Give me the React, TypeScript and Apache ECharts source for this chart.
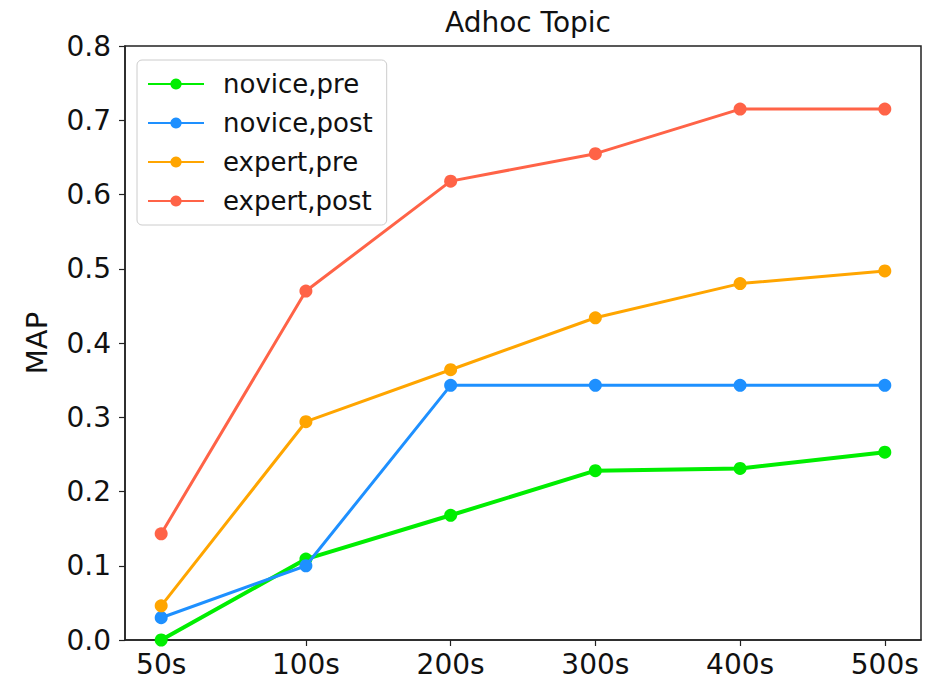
import React, { useEffect, useRef } from "react";
import * as echarts from "echarts";

const categories = ["50s", "100s", "200s", "300s", "400s", "500s"];
const novicePre = [0.0, 0.109, 0.168, 0.228, 0.231, 0.253];
const novicePost = [0.03, 0.1, 0.343, 0.343, 0.343, 0.343];
const expertPre = [0.046, 0.294, 0.364, 0.434, 0.48, 0.497];
const expertPost = [0.143, 0.47, 0.618, 0.655, 0.715, 0.715];
const seriesNames = ["novice,pre", "novice,post", "expert,pre", "expert,post"];
const seriesColors = ["#00ee00", "#1e90ff", "#ffa500", "#ff6347"];
const yTicks = [0, 0.1, 0.2, 0.3, 0.4, 0.5, 0.6, 0.7, 0.8];

export default function App() {
  const ref = useRef<HTMLDivElement>(null);
  useEffect(() => {
    if (!ref.current) return;
    const chart = echarts.init(ref.current, null, { renderer: "svg" });
    const font = "DejaVu Sans";
    const allData = [novicePre, novicePost, expertPre, expertPost];
    const idx = categories.map((_, i) => i);
    chart.setOption({
      animation: false,
      backgroundColor: "#ffffff",
      title: {
        text: "Adhoc Topic",
        left: 523,
        textAlign: "center",
        top: 3,
        textStyle: { fontFamily: font, fontSize: 28, fontWeight: "normal", color: "#111" },
      },
      legend: {
        orient: "vertical",
        left: 137,
        top: 60,
        padding: [9, 14, 9, 10],
        backgroundColor: "#ffffff",
        borderColor: "#cccccc",
        borderWidth: 1,
        borderRadius: 5,
        itemWidth: 56,
        itemHeight: 14,
        itemGap: 9,
        data: seriesNames,
        textStyle: {
          fontFamily: font,
          fontSize: 26,
          color: "#111",
          lineHeight: 30,
          padding: [0, 0, 0, 14],
        },
      },
      grid: {
        left: 125,
        right: 14,
        top: 46,
        bottom: 52,
        show: true,
        borderColor: "#222",
        borderWidth: 1.5,
        backgroundColor: "transparent",
      },
      xAxis: {
        type: "value",
        min: -0.25,
        max: 5.25,
        splitLine: { show: false },
        axisLine: { show: true, onZero: false, lineStyle: { color: "#222", width: 1.5 } },
        axisTick: { show: true, customValues: idx, length: 6, lineStyle: { color: "#222", width: 1.2 } },
        axisLabel: {
          customValues: idx,
          formatter: (v: number) => categories[Math.round(v)] ?? "",
          fontFamily: font,
          fontSize: 28,
          color: "#111",
          margin: 10,
        },
      },
      yAxis: {
        type: "value",
        min: 0,
        max: 0.8,
        interval: 0.1,
        name: "MAP",
        nameLocation: "middle",
        nameGap: 74,
        nameRotate: 90,
        nameTextStyle: { fontFamily: font, fontSize: 29, color: "#111" },
        splitLine: { show: false },
        axisLine: { show: true, onZero: false, lineStyle: { color: "#222", width: 1.5 } },
        axisTick: { show: true, customValues: yTicks, length: 6, lineStyle: { color: "#222", width: 1.2 } },
        axisLabel: {
          formatter: (v: number) => v.toFixed(1),
          fontFamily: font,
          fontSize: 28,
          color: "#111",
          margin: 14,
        },
      },
      series: allData.map((d, s) => ({
        name: seriesNames[s],
        type: "line",
        data: d.map((v, i) => [i, v]),
        symbol: "circle",
        symbolSize: 13,
        color: seriesColors[s],
        lineStyle: { width: s === 0 ? 4 : 3, color: seriesColors[s] },
        itemStyle: { color: seriesColors[s] },
        clip: false,
        z: 2 + s,
      })),
    });
    return () => chart.dispose();
  }, []);
  return (
    <div
      ref={ref}
      style={{ position: "fixed", left: 0, top: 0, width: 935, height: 692 }}
    />
  );
}
